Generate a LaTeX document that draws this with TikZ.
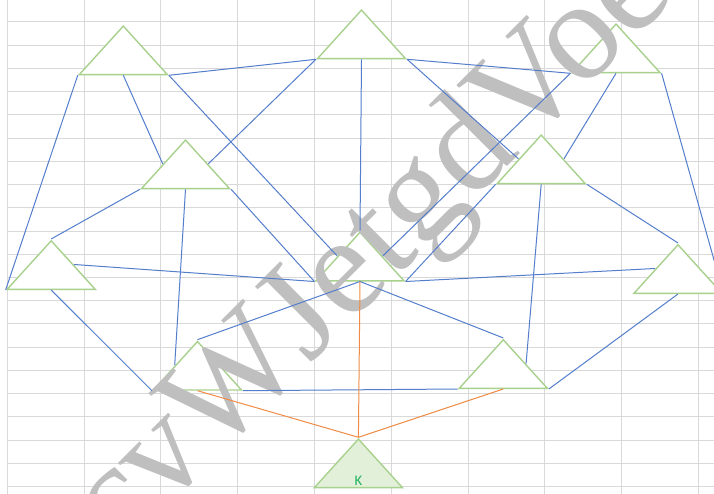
\documentclass[tikz,border=0pt]{standalone}
\usepackage{fontspec}
\newfontfamily\markfont{Liberation Serif}
\newfontfamily\cellfont{Carlito}
\usetikzlibrary{shapes.geometric}
\definecolor{gridgray}{RGB}{217,217,217}
\definecolor{trigreen}{RGB}{169,209,142}
\definecolor{kfill}{RGB}{226,240,217}
\definecolor{kgreen}{RGB}{30,178,96}
\definecolor{linkblue}{RGB}{84,126,204}
\definecolor{linkorange}{RGB}{240,140,70}
\definecolor{markgray}{RGB}{191,191,191}
\tikzset{
  gridline/.style={draw=gridgray, line width=1pt},
  tri/.style={isosceles triangle, isosceles triangle stretches, shape border rotate=90, minimum width=88pt, minimum height=48.5pt, inner sep=0pt, draw=trigreen, line width=1.4pt, fill=white, anchor=lower side},
  ktri/.style={tri, fill=kfill},
  kletter/.style={text=kgreen, font=\cellfont\fontsize{14.67}{14.67}\selectfont, inner sep=0pt},
  link/.style={draw=linkblue, line width=1pt},
  feed/.style={draw=linkorange, line width=1pt},
  watermark/.style={text=markgray, font=\markfont\fontsize{142}{142}\selectfont, rotate=45, anchor=base, inner sep=0pt}
}
\begin{document}
\begin{tikzpicture}[x=1pt, y=-1pt]
  \fill[white] (0,0) rectangle (714,494);
  \useasboundingbox (0,0) rectangle (714,494);
  \clip (0,0) rectangle (714,494);
  \foreach \gx in {0,...,9} \draw[gridline] ({7.3+76.8*\gx},0) -- ({7.3+76.8*\gx},494);
  \foreach \gy in {0,...,20} \draw[gridline] (7.3,{22+23.23*\gy}) -- (714,{22+23.23*\gy});

  \node[tri] (tl) at (123.3,75.3) {};
  \node[tri] (tc) at (361.5,59.3) {};
  \node[tri] (tr) at (616,73.3) {};
  \node[tri] (ml) at (185.5,189.3) {};
  \node[tri] (mr) at (541.2,184.3) {};
  \node[tri] (l) at (51.2,290) {};
  \node[tri] (c) at (360,281.5) {};
  \node[tri] (r) at (678,294) {};
  \node[tri] (bl) at (197.5,390.7) {};
  \node[tri] (br) at (503.3,389) {};
  \node[ktri, label={[kletter, anchor=south, yshift=2.5pt]south:K}] (k) at (358.4,488.3) {};

  \node[watermark] (mark) at (398,276) {cvWJetgdVoe};

  \draw[link] (tl.left corner) -- (l.left corner);
  \draw[link] (tl.lower side) -- (ml.left side);
  \draw[link] (tl.right corner) -- (tc.left corner);
  \draw[link] (tl.right corner) -- (c.left side);
  \draw[link] (ml.left corner) -- (l.apex);
  \draw[link] (ml.lower side) -- (bl.left side);
  \draw[link] (ml.right corner) -- (c.left corner);
  \draw[link] (ml.right side) -- (tc.left corner);
  \draw[link] (tc.lower side) -- (c.apex);
  \draw[link] (tc.right corner) -- (tr.left corner);
  \draw[link] (tc.right corner) -- (mr.left side);
  \draw[link] (tr.left corner) -- (c.right side);
  \draw[link] (tr.lower side) -- (mr.right side);
  \draw[link] (tr.right corner) -- (r.right corner);
  \draw[link] (mr.left corner) -- (c.right corner);
  \draw[link] (mr.lower side) -- (br.right side);
  \draw[link] (mr.right corner) -- (r.apex);
  \draw[link] (l.right side) -- (c.left corner);
  \draw[link] (l.lower side) -- (bl.left corner);
  \draw[link] (c.right corner) -- (r.left side);
  \draw[link] (c.lower side) -- (br.apex);
  \draw[link] (c.lower side) -- (bl.apex);
  \draw[link] (bl.right corner) -- (br.left corner);
  \draw[link] (br.right corner) -- (r.lower side);
  \draw[feed] (bl.lower side) -- (k.apex);
  \draw[feed] (c.lower side) -- (k.apex);
  \draw[feed] (br.lower side) -- (k.apex);
\end{tikzpicture}
\end{document}
